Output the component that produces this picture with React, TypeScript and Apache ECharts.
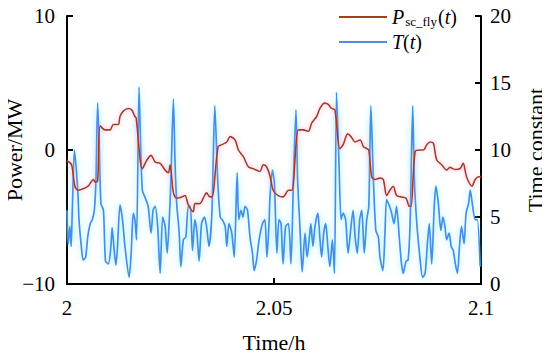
import React, { useEffect, useRef } from "react";
import * as echarts from "echarts";

const xTicks = [2, 2.05, 2.1];
const powerTicks = [-10, 0, 10];
const tcTicks = [0, 5, 10, 15, 20];

const powerTime = [
  2.0, 2.0011, 2.0019, 2.0027, 2.0039, 2.0051, 2.0064, 2.0068, 2.0074, 2.008, 2.0092, 2.0104, 2.0112, 2.0124,
  2.0128, 2.0136, 2.0148, 2.0156, 2.0164, 2.0167, 2.0182, 2.0193, 2.0203, 2.0213, 2.0225, 2.0237, 2.0245,
  2.0249, 2.0257, 2.0265, 2.0277, 2.0285, 2.0293, 2.0305, 2.0309, 2.0321, 2.0329, 2.0337, 2.0345, 2.035,
  2.0365, 2.0374, 2.0386, 2.0394, 2.0406, 2.0414, 2.0426, 2.0438, 2.045, 2.0466, 2.0474, 2.0482, 2.049,
  2.0498, 2.051, 2.0522, 2.0535, 2.0543, 2.0559, 2.0571, 2.0583, 2.0591, 2.0603, 2.0611, 2.0622, 2.0631,
  2.0639, 2.0647, 2.0659, 2.0667, 2.0678, 2.0686, 2.0696, 2.0708, 2.0716, 2.0724, 2.0729, 2.0736, 2.0744,
  2.0756, 2.0764, 2.0772, 2.078, 2.0788, 2.0796, 2.0808, 2.0819, 2.0827, 2.0831, 2.0841, 2.0853, 2.0861,
  2.0869, 2.0877, 2.0885, 2.0893, 2.0905, 2.0917, 2.0925, 2.0937, 2.0949, 2.0957, 2.0965, 2.0978, 2.0986,
  2.0994, 2.1,
];
const powerMW = [
  -0.8, -1.1, -2.7, -3.0, -2.9, -2.7, -2.2, -2.4, -2.3, 1.8, 1.5, 1.5, 1.9, 1.9,
  2.5, 2.9, 3.1, 3.0, 2.5, 2.4, -1.4, -0.75, -0.4, -0.9, -1.0, -1.5, -1.7,
  -1.1, -3.2, -3.6, -3.5, -3.4, -4.1, -4.6, -4.0, -4.0, -3.6, -3.2, -3.5, -3.5,
  0.25, 0.4, 0.6, 1.0, 0.75, 0.0, -0.5, -1.25, -1.4, -1.6, -1.1, -1.25, -1.9,
  -3.0, -3.4, -3.5, -3.0, -3.0, 1.5, 1.5, 1.4, 2.0, 2.5, 3.1, 3.5, 3.4,
  3.1, 3.0, 0.1, 0.4, 1.2, 1.0, 0.6, 0.75, 0.25, 0.1, 0.0, -2.0, -2.2,
  -2.1, -2.2, -3.4, -3.0, -2.7, -3.4, -3.5, -3.6, -4.2, -4.2, -0.1, 0.0, 0.0,
  0.4, 0.6, 0.5, -0.75, -1.1, -1.5, -1.3, -1.45, -1.4, -1.0, -2.0, -2.7, -2.2,
  -2.0, -2.0,
];

const tcTime = [
  2.0, 2.0003, 2.0007, 2.001, 2.0013, 2.0018, 2.0026, 2.0029, 2.0034, 2.0039, 2.0045, 2.005, 2.0056, 2.0061,
  2.0066, 2.007, 2.0074, 2.0078, 2.0082, 2.0088, 2.0093, 2.01, 2.0106, 2.0109, 2.0114, 2.0118, 2.0122, 2.0128,
  2.0134, 2.014, 2.015, 2.0155, 2.016, 2.0164, 2.0168, 2.0174, 2.0178, 2.0182, 2.0188, 2.0196, 2.0203, 2.0208,
  2.0213, 2.0219, 2.0225, 2.0231, 2.0237, 2.0242, 2.0247, 2.0251, 2.0257, 2.0261, 2.0265, 2.0271, 2.0275,
  2.0281, 2.0287, 2.0293, 2.0298, 2.0303, 2.0309, 2.0314, 2.0319, 2.0325, 2.0332, 2.0337, 2.0343, 2.035,
  2.0357, 2.0364, 2.037, 2.0375, 2.0382, 2.0386, 2.0391, 2.0398, 2.0404, 2.0411, 2.0415, 2.042, 2.0425, 2.043,
  2.0436, 2.0442, 2.0448, 2.0452, 2.0458, 2.0464, 2.0472, 2.0478, 2.0483, 2.0488, 2.049, 2.0496, 2.0501,
  2.0507, 2.0512, 2.0517, 2.0522, 2.0528, 2.0535, 2.0541, 2.0547, 2.0553, 2.0557, 2.0563, 2.0568, 2.0575,
  2.058, 2.0585, 2.0589, 2.0594, 2.0599, 2.0606, 2.061, 2.0615, 2.062, 2.0625, 2.063, 2.0635, 2.0641, 2.0646,
  2.0651, 2.0657, 2.0662, 2.0667, 2.0673, 2.0679, 2.0686, 2.0691, 2.0696, 2.0701, 2.0707, 2.0712, 2.0718,
  2.0724, 2.0729, 2.0734, 2.074, 2.0746, 2.0752, 2.0756, 2.0763, 2.0768, 2.0772, 2.0779, 2.0784, 2.079,
  2.0796, 2.0803, 2.0808, 2.0812, 2.0819, 2.0824, 2.0829, 2.0835, 2.0839, 2.0845, 2.0853, 2.0859, 2.0865,
  2.087, 2.0875, 2.0881, 2.0887, 2.0891, 2.0897, 2.0903, 2.0908, 2.0913, 2.0917, 2.0923, 2.0928, 2.0933,
  2.0938, 2.0943, 2.0948, 2.0953, 2.0959, 2.0964, 2.097, 2.0974, 2.0979, 2.0986, 2.0991, 2.0998,
];
const tcValue = [
  5.5, 3.0, 4.3, 2.8, 5.8, 10.0, 7.0, 4.8, 3.0, 1.8, 2.0, 3.5, 4.5, 4.8,
  5.5, 7.8, 13.5, 10.2, 6.0, 5.5, 1.7, 1.5, 2.8, 4.2, 2.5, 1.4, 2.8, 5.9,
  4.8, 2.8, 0.5, 2.3, 5.3, 4.8, 3.3, 14.7, 10.2, 7.0, 6.5, 5.8, 3.8, 5.5,
  5.8, 4.3, 0.8, 5.0, 4.3, 2.3, 4.8, 7.8, 13.8, 9.0, 6.0, 3.8, 1.3,
  3.3, 3.5, 5.8, 5.8, 2.5, 4.8, 3.8, 1.7, 4.5, 5.0, 4.3, 2.8, 5.3,
  13.3, 7.8, 5.0, 4.8, 4.3, 2.8, 4.5, 3.8, 2.0, 8.3, 4.8, 5.5, 5.0, 5.8,
  5.5, 3.5, 2.3, 1.0, 1.8, 3.3, 4.5, 4.8, 2.0, 4.5, 6.3, 8.5, 7.5,
  2.3, 4.8, 4.5, 1.5, 4.3, 4.5, 1.5, 7.8, 13.0, 7.8, 4.0, 0.9, 3.8,
  2.0, 3.3, 4.5, 2.8, 4.3, 5.3, 3.8, 2.0, 3.8, 4.5, 2.8, 1.3, 3.3, 0.8,
  14.3, 9.0, 4.8, 5.3, 4.8, 2.3, 4.3, 5.5, 3.5, 2.3, 4.8, 5.5, 2.3,
  4.8, 5.8, 13.3, 7.8, 4.0, 3.5, 2.0, 1.0, 3.8, 6.3, 5.8, 5.3, 4.5,
  5.8, 3.3, 1.5, 0.8, 1.7, 1.8, 4.8, 13.3, 7.8, 4.5, 1.8, 0.5, 0.8,
  2.8, 4.5, 1.5, 5.8, 7.3, 6.0, 4.0, 5.0, 4.3, 3.3, 3.8, 2.8, 2.5,
  1.5, 0.8, 2.8, 4.3, 3.0, 5.3, 6.0, 7.0, 6.0, 4.8, 4.8, 1.3,
];

const SERIF = "'Liberation Serif', 'Times New Roman', Times, serif";
const RED = "#a43d1d";
const BLUE = "#4a8de3";

export default function App() {
  const ref = useRef<HTMLDivElement>(null);
  useEffect(() => {
    if (!ref.current) return;
    const chart = echarts.init(ref.current, undefined, { renderer: "svg" });
    const powerData = powerTime.map((t, i) => [t, powerMW[i]]);
    const tcData = tcTime.map((t, i) => [t, tcValue[i]]);
    const axisLine = { show: true, onZero: false, lineStyle: { color: "#000", width: 2 } };
    const axisTick = { show: true, inside: true, length: 6, lineStyle: { color: "#000", width: 2 } };
    const fmtNum = (v: number) => (v < 0 ? "\u2212" + Math.abs(v) : String(v));
    chart.setOption({
      animation: false,
      backgroundColor: "#fff",
      textStyle: { fontFamily: SERIF },
      grid: { left: 67, right: 69, top: 16, bottom: 75, containLabel: false, outerBoundsMode: "none" },
      legend: {
        orient: "vertical",
        left: 334,
        top: 2,
        itemWidth: 48,
        itemHeight: 10,
        itemGap: 4,
        icon: "path://M0,4L48,4L48,6L0,6Z",
        data: ["P", "T"],
        formatter: (name: string) =>
          name === "P" ? "{i|P}{s|sc_fly}{n|(}{i|t}{n|)}" : "{i|T}{n|(}{i|t}{n|)}",
        textStyle: {
          fontFamily: SERIF,
          fontSize: 20,
          color: "#000",
          rich: {
            i: { fontFamily: SERIF, fontSize: 20, fontStyle: "italic", color: "#000", lineHeight: 22 },
            n: { fontFamily: SERIF, fontSize: 20, color: "#000", lineHeight: 22 },
            s: { fontFamily: SERIF, fontSize: 13, color: "#000", verticalAlign: "bottom", lineHeight: 12, padding: [6, 1, 0, 1] },
          },
        },
      },
      xAxis: {
        type: "value",
        min: xTicks[0],
        max: xTicks[xTicks.length - 1],
        interval: 0.05,
        name: "Time/h",
        nameLocation: "middle",
        nameGap: 47,
        nameMoveOverlap: false,
        nameTextStyle: { fontFamily: SERIF, fontSize: 22, color: "#000" },
        axisLine,
        axisTick,
        splitLine: { show: false },
        axisLabel: { fontFamily: SERIF, fontSize: 21, color: "#000", margin: 13, formatter: (v: number) => String(+v.toFixed(2)) },
      },
      yAxis: [
        {
          type: "value",
          min: powerTicks[0],
          max: powerTicks[powerTicks.length - 1],
          interval: 10,
          name: "Power/MW",
          nameLocation: "middle",
          nameGap: 42,
          nameMoveOverlap: false,
          nameTextStyle: { fontFamily: SERIF, fontSize: 22, color: "#000" },
          axisLine,
          axisTick,
          splitLine: { show: false },
          axisLabel: { fontFamily: SERIF, fontSize: 21, color: "#000", margin: 12, formatter: fmtNum },
        },
        {
          type: "value",
          position: "right",
          min: tcTicks[0],
          max: tcTicks[tcTicks.length - 1],
          interval: 5,
          name: "Time constant",
          nameLocation: "middle",
          nameGap: 43,
          nameRotate: 90,
          nameMoveOverlap: false,
          nameTextStyle: { fontFamily: SERIF, fontSize: 22, color: "#000" },
          axisLine,
          axisTick,
          splitLine: { show: false },
          axisLabel: { fontFamily: SERIF, fontSize: 21, color: "#000", margin: 9 },
        },
      ],
      series: [
        {
          name: "P",
          type: "line",
          yAxisIndex: 0,
          data: powerData,
          showSymbol: false,
          smooth: 0.3,
          z: 3,
          itemStyle: { color: RED },
          lineStyle: { color: RED, width: 1.6, shadowColor: "rgba(255,150,200,0.8)", shadowBlur: 5 },
        },
        {
          name: "T",
          type: "line",
          yAxisIndex: 1,
          data: tcData,
          showSymbol: false,
          smooth: 0.25,
          z: 2,
          itemStyle: { color: BLUE },
          lineStyle: { color: BLUE, width: 1.7, shadowColor: "rgba(120,235,255,0.85)", shadowBlur: 6 },
        },
      ],
    });
    return () => chart.dispose();
  }, []);
  return <div ref={ref} style={{ width: 550, height: 359, margin: -8 }} />;
}
